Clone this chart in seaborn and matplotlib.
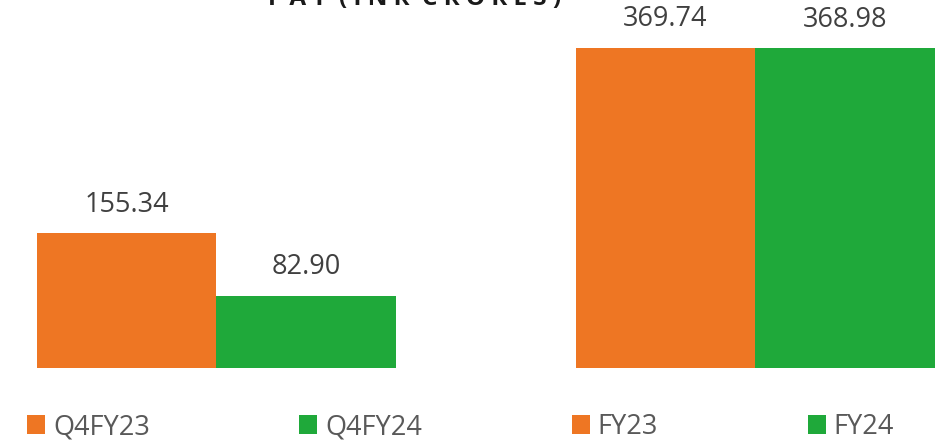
import matplotlib
matplotlib.use('Agg')
import matplotlib.pyplot as plt
import seaborn as sns
import pandas as pd
from matplotlib.patches import Patch

# chart data
periods = ['Q4FY23', 'Q4FY24', 'FY23', 'FY24']
pat_values = [155.34, 82.90, 369.74, 368.98]
label_text = ['155.34', '82.90', '369.74', '368.98']
slot_order = ['Q4FY23', 'Q4FY24', ' ', 'FY23', 'FY24']

ORANGE = '#EE7623'
GREEN = '#1FA93A'
bar_colors = {'Q4FY23': ORANGE, 'Q4FY24': GREEN, 'FY23': ORANGE, 'FY24': GREEN}

sns.set_theme(style='white')
plt.rcParams['font.family'] = ['Open Sans', 'DejaVu Sans']

df = pd.DataFrame({'period': periods, 'pat': pat_values})

W, H = 946, 444
fig = plt.figure(figsize=(W / 100, H / 100), dpi=100)
ax = fig.add_axes([36.7 / W, 1 - 367.7 / H, (935 - 36.7) / W, 346.2 / H])

sns.barplot(data=df, x='period', y='pat', hue='period', order=slot_order,
            palette=bar_colors, width=1.0, legend=False, saturation=1,
            linewidth=0, ax=ax)
ax.set_ylim(0, 400)
ax.set_xlim(-0.5, 4.5)
ax.axis('off')

# data labels above the bars
pos = {p: slot_order.index(p) for p in periods}
for p, v, t in zip(periods, pat_values, label_text):
    ax.annotate(t, xy=(pos[p], v), xytext=(0, 20.5), textcoords='offset points',
                ha='center', va='center', fontsize=19.5, color='#404040')

# title, clipped at the top like the source
fig.text(415 / W, 1 - 4.5 / H, 'P A T  ( I N R  C R O R E S )', ha='center',
         va='baseline', fontsize=17.5, fontweight='bold', color='#1a1a1a')

handles = [Patch(facecolor=bar_colors[p], edgecolor='none', label=p) for p in periods]
leg = fig.legend(handles=handles, loc='center left', bbox_to_anchor=(27 / W, 1 - 427 / H),
                 ncol=4, frameon=False, fontsize=19.5, handlelength=0.66, handleheight=0.66,
                 handletextpad=0.3, columnspacing=5.52, borderaxespad=0, borderpad=0)
for txt in leg.get_texts():
    txt.set_color('#595959')

fig.savefig('out.png', dpi=100)
